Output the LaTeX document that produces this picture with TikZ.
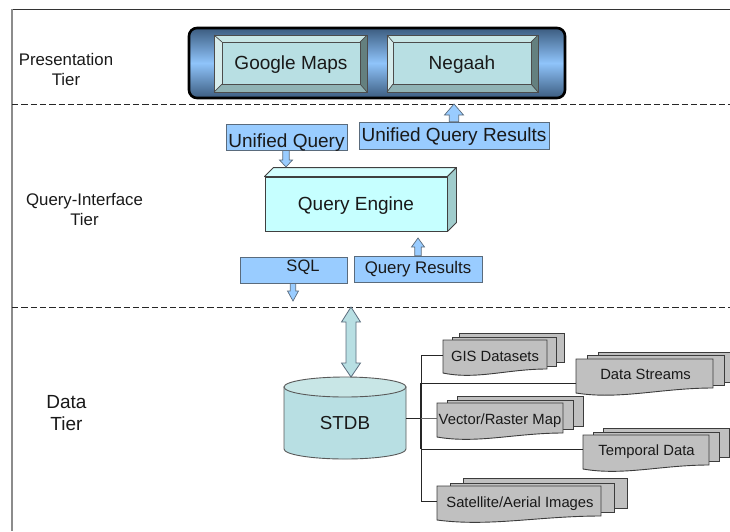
\documentclass[tikz,border=0pt]{standalone}
\usepackage{fontspec}
\setmainfont{Liberation Sans}
\usetikzlibrary{calc}
\definecolor{boxblue}{HTML}{99CCFF}
\definecolor{boxedge}{HTML}{5A6B7C}
\definecolor{face}{HTML}{B8DFE3}
\definecolor{bevtop}{HTML}{C8E6E6}
\definecolor{bevleft}{HTML}{D6ECEC}
\definecolor{bevbot}{HTML}{90B3B5}
\definecolor{bevright}{HTML}{64807F}
\definecolor{docgray}{HTML}{C0C0C0}
\definecolor{docedge}{HTML}{3C3C3C}
\definecolor{engine}{HTML}{C6FFFF}
\definecolor{enginetop}{HTML}{D4FFFF}
\definecolor{engineside}{HTML}{A0CCCC}
\definecolor{HeadDark}{HTML}{3C5C80}
\definecolor{HeadLight}{HTML}{8FC4FA}
\tikzset{
  tiertext/.style={align=center,inner sep=0pt,text=black!90},
  bluebox/.style={draw=boxedge,fill=boxblue,line width=.8pt,inner sep=0pt,text=black!90,font=\fontsize{19}{22}\selectfont},
  smalltext/.style={font=\fontsize{16.8}{20}\selectfont},
  blockarrow/.style={draw=boxedge,fill=boxblue,line width=.7pt,line join=miter},
  tealarrow/.style={draw=boxedge,fill=face,line width=.8pt},
  divider/.style={draw=black!85,dash pattern=on 6.3pt off 3pt,line width=1pt},
  docsheet/.style={draw=docedge,fill=docgray,line width=.9pt},
  doclabel/.style={inner sep=0pt,text=black!90,font=\fontsize{14.8}{17}\selectfont},
  trunk/.style={draw=black!85,line width=.9pt},
  bevelline/.style={draw=black!70,line width=.7pt},
  facetext/.style={draw=black!70,fill=face,line width=.7pt,inner sep=0pt,text=black!90,font=\fontsize{19}{22}\selectfont}
}
% text whose baseline lies #1 pt below the centre of its node
\newcommand{\tb}[2]{\raisebox{-#1pt}[0pt][0pt]{#2}}
% vertical block arrow: #1 style, #2 tail, #3 tip, #4 half shaft, #5 half head, #6 signed head length (pt, upward positive)
\newcommand{\vblock}[6]{%
  \path let \p1=(#2), \p2=(#3) in
    [#1] (\x2-#4pt,\y1) -- (\x2-#4pt,\y2-#6pt) -- (\x2-#5pt,\y2-#6pt) -- (\x2,\y2)
    -- (\x2+#5pt,\y2-#6pt) -- (\x2+#4pt,\y2-#6pt) -- (\x2+#4pt,\y1) -- cycle;}
% x1 x2 ytop yleft yright
\newcommand{\docfront}[5]{%
  \path[docsheet] (#1,#3) -- (#2,#3) -- (#2,#5)
    .. controls ({#1+.62*(#2-#1)},#5) and ({#1+.32*(#2-#1)},{#4+7}) .. (#1,#4) -- cycle;}
\newcommand{\docback}[4]{\path[docsheet] (#1,#3) rectangle (#2,#4);}
% outer x1 y1 x2 y2, inner x1 y1 x2 y2
\newcommand{\bevel}[8]{%
  \fill[bevtop] (#1,#2) -- (#3,#2) -- (#7,#6) -- (#5,#6) -- cycle;
  \fill[bevleft] (#1,#2) -- (#5,#6) -- (#5,#8) -- (#1,#4) -- cycle;
  \fill[bevbot] (#1,#4) -- (#3,#4) -- (#7,#8) -- (#5,#8) -- cycle;
  \fill[bevright] (#3,#2) -- (#3,#4) -- (#7,#8) -- (#7,#6) -- cycle;
  \path[bevelline] (#1,#2) rectangle (#3,#4);
  \path[bevelline] (#1,#2) -- (#5,#6) (#3,#2) -- (#7,#6) (#1,#4) -- (#5,#8) (#3,#4) -- (#7,#8);}
\begin{document}
\begin{tikzpicture}[x=1pt,y=-1pt]
\useasboundingbox (0,0) rectangle (730,531);
\begin{scope}
\clip (0,0) rectangle (730,531);
% frame and dividers
\coordinate (ftl) at (12,9);
\coordinate (ftr) at (730,9);
\coordinate (fbl) at (12,531);
\draw[black!80,line width=.9pt] (ftl) -- (ftr);
\draw[black!45,line width=1.1pt] (ftl) -- (fbl);
\coordinate (d1l) at (12,104);
\coordinate (d1r) at (730,104);
\coordinate (d2l) at (12,307);
\coordinate (d2r) at (730,307);
\path[divider] (d1l) -- (d1r);
\path[divider] (d2l) -- (d2r);

% tier labels
\node[tiertext,smalltext] (t1) at (66,69.5) {Presentation\\Tier};
\node[tiertext,smalltext] (t2) at (84.5,209) {Query-Interface\\Tier};
\node[tiertext,font=\fontsize{19}{22}\selectfont] (t3) at (66.5,413) {Data\\Tier};

% presentation panel
\draw[line width=2.6pt,draw=black,rounded corners=8pt,top color=HeadDark,bottom color=HeadDark,middle color=HeadLight] (189,28) rectangle (565,98);
\bevel{214}{35}{367}{92}{222}{42}{360}{84}
\bevel{387}{35}{538}{92}{393}{42}{531}{84}
\node[facetext,minimum width=138pt,minimum height=42pt] (gm) at (291,63) {\tb{6.5}{Google Maps}};
\node[facetext,minimum width=138pt,minimum height=42pt] (ng) at (462,63) {\tb{6.5}{Negaah}};

% query engine
\node[draw=black!75,fill=engine,line width=.9pt,inner sep=0pt,minimum width=182pt,minimum height=54pt,text=black!90,font=\fontsize{19}{22}\selectfont] (qe) at (356,204) {\tb{6}{Query Engine}};
\draw[black!75,line width=.9pt,fill=enginetop,line join=round] (qe.north west) -- ++(9,-9) -- ($(qe.north east)+(9,-9)$) -- (qe.north east) -- cycle;
\draw[black!75,line width=.9pt,fill=engineside,line join=round] (qe.north east) -- ++(9,-9) -- ($(qe.south east)+(9,-9)$) -- (qe.south east) -- cycle;

% query boxes
\node[bluebox,minimum width=121pt,minimum height=26pt] (uq) at (286.5,137) {\tb{10}{Unified Query}};
\node[bluebox,minimum width=190pt,minimum height=27pt] (uqr) at (454,135.5) {\tb{5.5}{Unified Query Results}};
\node[bluebox,minimum width=107pt,minimum height=26pt] (sql) at (293.5,270) {};
\node[inner sep=0pt,text=black!90,font=\fontsize{16.5}{20}\selectfont] (sqlt) at (303,265) {\tb{6}{SQL}};
\node[bluebox,smalltext,minimum width=128pt,minimum height=26pt] (qr) at (418,269) {\tb{4}{Query Results}};

% block arrows
\coordinate (a1) at (286,167);
\coordinate (a2) at (454,104);
\coordinate (a3) at (293,301);
\coordinate (a4) at (418,238);
\vblock{blockarrow}{uq.south -| a1}{a1}{3.2}{6.5}{-7}
\vblock{blockarrow}{uqr.north -| a2}{a2}{4.7}{9.5}{11}
\vblock{blockarrow}{sql.south -| a3}{a3}{2.7}{5.5}{-10}
\vblock{blockarrow}{qr.north -| a4}{a4}{3.2}{6.5}{9}
\path[tealarrow] (351,307) -- (360.5,322) -- (356,322) -- (356,363) -- (360.5,363) -- (351,377) -- (341.5,363) -- (346,363) -- (346,322) -- (341.5,322) -- cycle;

% connector tree
\coordinate (trTop) at (421,355);
\coordinate (trBot) at (421,501);
\coordinate (jDs) at (421,383);
\coordinate (jVec) at (421,418);
\coordinate (jTmp) at (421,449);

% stdb cylinder
\draw[black!65,line width=.9pt,fill=face] (284,387) -- (284,449) arc[start angle=180,end angle=360,x radius=61pt,y radius=10pt] -- (406,387) -- cycle;
\draw[black!65,line width=.9pt,fill=bevtop] (345,387) ellipse[x radius=61pt,y radius=10pt];
\node[minimum width=122pt,minimum height=72pt,inner sep=0pt,text=black!90,font=\fontsize{18.8}{22}\selectfont] (stdb) at (345,423) {\tb{6}{STDB}};

% document stacks
\docback{459}{564}{333}{362}
\docback{452}{556}{337}{366}
\docfront{443}{547}{340}{373}{369}
\docback{598}{735}{352}{382}
\docback{587}{724}{355}{385}
\docfront{576}{713}{359}{393}{388}
\docback{457}{583}{396}{426}
\docback{447}{573}{400}{429}
\docfront{437}{563}{403}{437}{433}
\docback{603}{729}{428}{457}
\docback{593}{719}{432}{461}
\docfront{583}{709}{435}{469}{465}
\docback{463}{627}{478}{508}
\docback{450}{614}{483}{512}
\docfront{437}{601}{486}{520}{516}
\node[doclabel,minimum width=104pt] (gis) at (495,356) {\tb{5}{GIS Datasets}};
\node[doclabel,minimum width=137pt] (ds) at (644.5,374) {\tb{5}{\hspace{2pt}Data Streams}};
\node[doclabel,minimum width=126pt] (vec) at (500,419) {\tb{5}{Vector/Raster Map}};
\node[doclabel,minimum width=126pt] (tmp) at (646,450) {\tb{5}{\hspace{1pt}Temporal Data}};
\node[doclabel,minimum width=164pt] (sat) at (519,502) {\tb{5}{\hspace{2pt}Satellite/Aerial Images}};

% connectors
\path[trunk,line width=1.2pt] (jDs) -- (jTmp);
\path[trunk] (trTop) -- (trBot);
\path[trunk] (trTop) -- (trTop -| gis.west);
\path[trunk] (jDs) -- (jDs -| ds.west);
\path[trunk] (jVec) -- (jVec -| stdb.east);
\path[trunk,draw=black!60] (jVec) -- (jVec -| vec.west);
\path[trunk] (jTmp) -- (jTmp -| tmp.west);
\path[trunk] (trBot) -- (trBot -| sat.west);
\end{scope}
\end{tikzpicture}
\end{document}
